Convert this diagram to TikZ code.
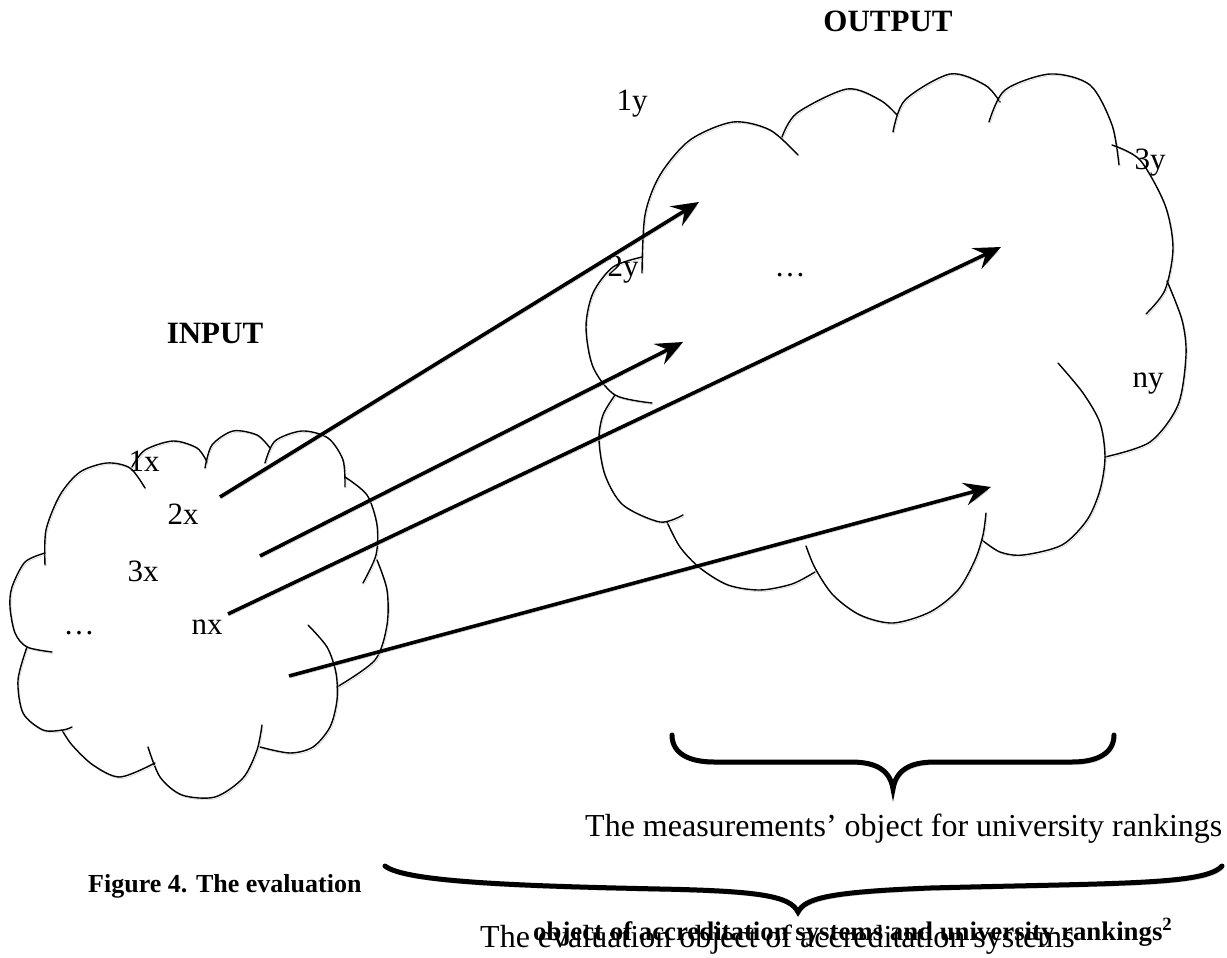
\documentclass[tikz,border=0pt]{standalone}
\usepackage{fontspec}
\setmainfont{Liberation Serif}
\usetikzlibrary{arrows.meta}
\definecolor{shadegray}{RGB}{195,195,195}
\tikzset{
  puff/.style={line width=1.4pt, line cap=round,
    preaction={draw=shadegray, transform canvas={shift={(1.2pt,-1.6pt)}}}},
  flow/.style={line width=3.6pt, -{Stealth[length=27pt, width=23pt, inset=10pt]},
    preaction={draw=shadegray, transform canvas={shift={(1.4pt,-2pt)}}}},
  bracemark/.style={line width=5pt, line cap=round,
    preaction={draw=shadegray, transform canvas={shift={(1.4pt,-2.6pt)}}}},
  var/.style={inner sep=0pt, font=\fontsize{31}{36}\selectfont},
  head/.style={inner sep=0pt, anchor=base, font=\fontsize{31}{36}\selectfont\bfseries},
  note/.style={inner sep=0pt, anchor=base west, font=\fontsize{32}{38}\selectfont},
  figcap/.style={inner sep=0pt, anchor=base west, font=\fontsize{26}{30}\selectfont\bfseries},
}
\begin{document}
\begin{tikzpicture}[x=1pt, y=-1pt]
  \useasboundingbox (0,0) rectangle (1227,958);

  % input cloud
  \draw[puff] plot[smooth] coordinates {(45,565) (46,530) (60,495) (80,472) (107,463) (130,468) (145,488)};
  \draw[puff] plot[smooth] coordinates {(132,467) (145,450) (173,441) (197,448) (207,462)};
  \draw[puff] plot[smooth] coordinates {(205,468) (212,445) (233,431) (257,435) (270,448)};
  \draw[puff] plot[smooth] coordinates {(265,463) (275,441) (302,431) (328,438) (343,460) (345,487)};
  \draw[puff] plot[smooth] coordinates {(345,477) (367,495) (377,525) (376,555) (363,583)};
  \draw[puff] plot[smooth] coordinates {(377,560) (387,590) (387,625) (375,660) (337,687)};
  \draw[puff] plot[smooth] coordinates {(308,625) (327,647) (336,673) (337,700) (330,727) (313,747) (290,753) (260,747)};
  \draw[puff] plot[smooth] coordinates {(262,725) (257,750) (243,778) (215,797) (182,795) (160,777) (148,747)};
  \draw[puff] plot[smooth] coordinates {(62,730) (72,745) (93,765) (120,777) (155,763)};
  \draw[puff] plot[smooth] coordinates {(27,647) (18,680) (23,713) (43,730) (63,730) (72,727)};
  \draw[puff] plot[smooth] coordinates {(45,553) (25,562) (12,587) (10,607) (15,633) (27,647) (52,652)};

  % output cloud
  \draw[puff] plot[smooth] coordinates {(652,403) (615,395) (593,367) (586,327) (593,293) (613,267) (642,257)};
  \draw[puff] plot[smooth] coordinates {(642,273) (645,215) (660,175) (690,140) (733,122) (770,130) (798,155)};
  \draw[puff] plot[smooth] coordinates {(782,137) (797,113) (847,89) (880,100) (897,115)};
  \draw[puff] plot[smooth] coordinates {(893,132) (905,100) (950,74) (985,85) (1000,102)};
  \draw[puff] plot[smooth] coordinates {(989,122) (1005,90) (1050,74) (1090,85) (1112,125) (1119,165)};
  \draw[puff] plot[smooth] coordinates {(1112,145) (1140,160) (1165,205) (1173,248) (1165,290) (1146,314)};
  \draw[puff] plot[smooth] coordinates {(1167,281) (1182,320) (1186,355) (1178,405) (1150,442) (1105,457)};
  \draw[puff] plot[smooth] coordinates {(1058,363) (1083,393) (1100,423) (1105,457) (1100,490) (1087,520) (1062,545) (1023,555) (1000,552) (982,540)};
  \draw[puff] plot[smooth] coordinates {(806,546) (815,568) (833,595) (860,615) (893,623) (930,612) (958,590) (975,560) (983,535) (986,513)};
  \draw[puff] plot[smooth] coordinates {(667,522) (680,547) (700,568) (728,585) (760,590) (792,584) (815,572)};
  \draw[puff] plot[smooth] coordinates {(615,395) (603,415) (599,440) (605,475) (623,505) (660,522) (683,515)};

  \node[head] (input) at (215,343) {INPUT};
  \node[head] (output) at (888,32) {OUTPUT};

  \node[var] (x1) at (144,461) {1x};
  \node[var] (x2) at (183,514) {2x};
  \node[var] (x3) at (143,571) {3x};
  \node[var] (xdots) at (79,633) {\ldots};
  \node[var] (xn) at (207,627) {nx};
  \node[var] (y1) at (632,104) {1y};
  \node[var] (y2) at (623,270) {2y};
  \node[var] (ydots) at (790,275) {\ldots};
  \node[var] (y3) at (1150,163) {3y};
  \node[var] (yn) at (1148,384) {ny};

  \coordinate (from1) at (220,497);
  \coordinate (from2) at (260,556);
  \coordinate (from3) at (228,614);
  \coordinate (from4) at (289,676);
  \coordinate (to1) at (699,202);
  \coordinate (to2) at (683,342);
  \coordinate (to3) at (1001,247);
  \coordinate (to4) at (991,487);
  \draw[flow] (from1) -- (to1);
  \draw[flow] (from2) -- (to2);
  \draw[flow] (from3) -- (to3);
  \draw[flow] (from4) -- (to4);

  \coordinate (small-l) at (672,735);
  \coordinate (small-tip) at (893,789);
  \coordinate (small-r) at (1114,735);
  \draw[bracemark] (small-l) .. controls (672,754) and (690,762) .. (714,762) -- (851,762)
    .. controls (876,762) and (890,770) .. (small-tip)
    .. controls (896,770) and (910,762) .. (935,762) -- (1072,762)
    .. controls (1096,762) and (1114,754) .. (small-r);
  \coordinate (big-l) at (385,866);
  \coordinate (big-tip) at (798,912);
  \coordinate (big-r) at (1222,866);
  \draw[bracemark] (big-l) .. controls (405,882) and (520,886) .. (660,889)
    .. controls (760,891) and (790,896) .. (big-tip)
    .. controls (805,898) and (830,892) .. (930,888)
    .. controls (1120,883) and (1205,885) .. (big-r);

  \node[note] (univ) at (585,836) {The measurements’ object for university rankings};
  \node[figcap] (fig) at (88,892) {Figure 4. The evaluation};
  \node[note] (accr) at (480,947) {The evaluation object of accreditation systems};
  \node[figcap, font=\fontsize{26.8}{30}\selectfont\bfseries] (figrest) at (533,940) {object of accreditation systems and university rankings\textsuperscript{2}};
\end{tikzpicture}
\end{document}
